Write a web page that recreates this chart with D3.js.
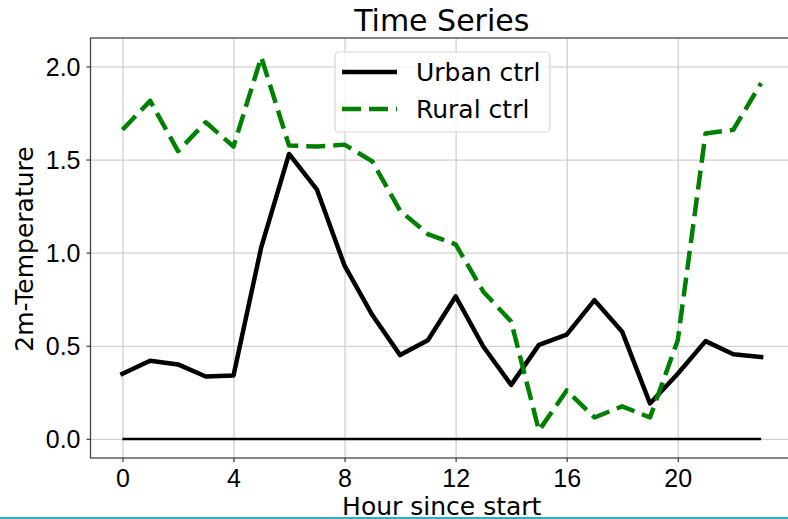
<!DOCTYPE html>
<html>
<head>
<meta charset="utf-8">
<script src="https://cdn.jsdelivr.net/npm/d3@7"></script>
<style>
  body { margin: 0; background: #fff; }
  svg { display: block; font-family: "DejaVu Sans", sans-serif; }
  .grid line { stroke: #d0d0d0; stroke-width: 1.3; }
  .grid path { display: none; }
  .axis text { font-size: 25px; fill: #000; }
  .axis line { stroke: #444; stroke-width: 1.3; }
  .axis path { display: none; }
</style>
</head>
<body>
<svg id="chart" width="788" height="519"></svg>
<script>
var hours = [0, 1, 2, 3, 4, 5, 6, 7, 8, 9, 10, 11, 12, 13, 14, 15, 16, 17, 18, 19, 20, 21, 22, 23];
var urbanCtrl = [0.35, 0.42, 0.40, 0.335, 0.34, 1.03, 1.53, 1.34, 0.93, 0.665, 0.45, 0.53,
                 0.765, 0.495, 0.29, 0.505, 0.56, 0.745, 0.575, 0.19, 0.35, 0.525, 0.455, 0.44];
var ruralCtrl = [1.66, 1.815, 1.545, 1.70, 1.57, 2.05, 1.575, 1.57, 1.58, 1.49, 1.225, 1.10,
                 1.045, 0.79, 0.63, 0.045, 0.26, 0.115, 0.175, 0.115, 0.53, 1.64, 1.66, 1.91];
var zeroLine = [0, 0, 0, 0, 0, 0, 0, 0, 0, 0, 0, 0, 0, 0, 0, 0, 0, 0, 0, 0, 0, 0, 0, 0];
var xTicks = [0, 4, 8, 12, 16, 20];
var yTicks = [0.0, 0.5, 1.0, 1.5, 2.0];
var seriesNames = ['Urban ctrl', 'Rural ctrl'];

(function() {
  var svg = d3.select('#chart');

  var plotLeft = 90.5, plotRight = 793, plotTop = 38, plotBottom = 458;

  // matplotlib style 5% margins
  var x = d3.scaleLinear().domain([-1.15, 24.15]).range([plotLeft, plotRight]);
  var y = d3.scaleLinear().domain([-0.1025, 2.1525]).range([plotBottom, plotTop]);

  // grid
  svg.append('g')
    .attr('class', 'grid')
    .attr('transform', 'translate(0,' + plotBottom + ')')
    .call(d3.axisBottom(x).tickValues(xTicks).tickSize(-(plotBottom - plotTop)).tickFormat(''));
  svg.append('g')
    .attr('class', 'grid')
    .attr('transform', 'translate(' + plotLeft + ',0)')
    .call(d3.axisLeft(y).tickValues(yTicks).tickSize(-(plotRight - plotLeft)).tickFormat(''));

  // axes
  svg.append('g')
    .attr('class', 'axis')
    .attr('transform', 'translate(0,' + plotBottom + ')')
    .call(d3.axisBottom(x).tickValues(xTicks).tickSize(4).tickPadding(7).tickFormat(d3.format('d')))
    .selectAll('text').attr('dy', '0.71em');

  svg.append('g')
    .attr('class', 'axis')
    .attr('transform', 'translate(' + plotLeft + ',0)')
    .call(d3.axisLeft(y).tickValues(yTicks).tickSize(4).tickPadding(6).tickFormat(d3.format('.1f')))
    .selectAll('text').attr('dy', '0.36em');

  // frame
  svg.append('rect')
    .attr('x', plotLeft)
    .attr('y', plotTop)
    .attr('width', plotRight - plotLeft)
    .attr('height', plotBottom - plotTop)
    .style('fill', 'none')
    .style('stroke', '#444')
    .style('stroke-width', 1.3);

  var line = d3.line()
    .x(function(d, i) { return x(hours[i]); })
    .y(function(d) { return y(d); });

  svg.append('path')
    .datum(zeroLine)
    .attr('d', line)
    .style('fill', 'none')
    .style('stroke', '#000')
    .style('stroke-width', 2.5);

  svg.append('path')
    .datum(urbanCtrl)
    .attr('d', line)
    .style('fill', 'none')
    .style('stroke', '#000')
    .style('stroke-width', 4.5)
    .style('stroke-linejoin', 'round')
    .style('stroke-linecap', 'square');

  svg.append('path')
    .datum(ruralCtrl)
    .attr('d', line)
    .style('fill', 'none')
    .style('stroke', '#008000')
    .style('stroke-width', 4.5)
    .style('stroke-dasharray', '19,8')
    .style('stroke-linejoin', 'round');

  // legend
  var legend = svg.append('g').attr('transform', 'translate(335,52)');
  legend.append('rect')
    .attr('width', 215)
    .attr('height', 80)
    .attr('rx', 4)
    .style('fill', '#fff')
    .style('fill-opacity', 0.8)
    .style('stroke', '#d8d8d8')
    .style('stroke-width', 1.2);

  var items = legend.selectAll('.item')
    .data(seriesNames)
    .enter().append('g')
    .attr('class', 'item')
    .attr('transform', function(d, i) { return 'translate(0,' + (20 + i * 37) + ')'; });

  items.append('line')
    .attr('x1', 7)
    .attr('x2', 62)
    .style('stroke', function(d, i) { return i === 0 ? '#000' : '#008000'; })
    .style('stroke-width', 4.5)
    .style('stroke-dasharray', function(d, i) { return i === 0 ? null : '19,8'; });

  items.append('text')
    .attr('x', 81)
    .attr('y', 9)
    .style('font-size', '25px')
    .text(function(d) { return d; });

  // titles
  svg.append('text')
    .attr('x', (plotLeft + plotRight) / 2)
    .attr('y', 30.5)
    .attr('text-anchor', 'middle')
    .style('font-size', '30px')
    .text('Time Series');

  svg.append('text')
    .attr('x', (plotLeft + plotRight) / 2)
    .attr('y', 515)
    .attr('text-anchor', 'middle')
    .style('font-size', '25px')
    .text('Hour since start');

  svg.append('text')
    .attr('transform', 'translate(33,249) rotate(-90)')
    .attr('text-anchor', 'middle')
    .style('font-size', '25px')
    .text('2m-Temperature');

  // bottom border strip
  svg.append('line')
    .attr('x1', 0)
    .attr('x2', 788)
    .attr('y1', 518)
    .attr('y2', 518)
    .style('stroke', '#2eaec4')
    .style('stroke-width', 2);
})();
</script>
</body>
</html>
